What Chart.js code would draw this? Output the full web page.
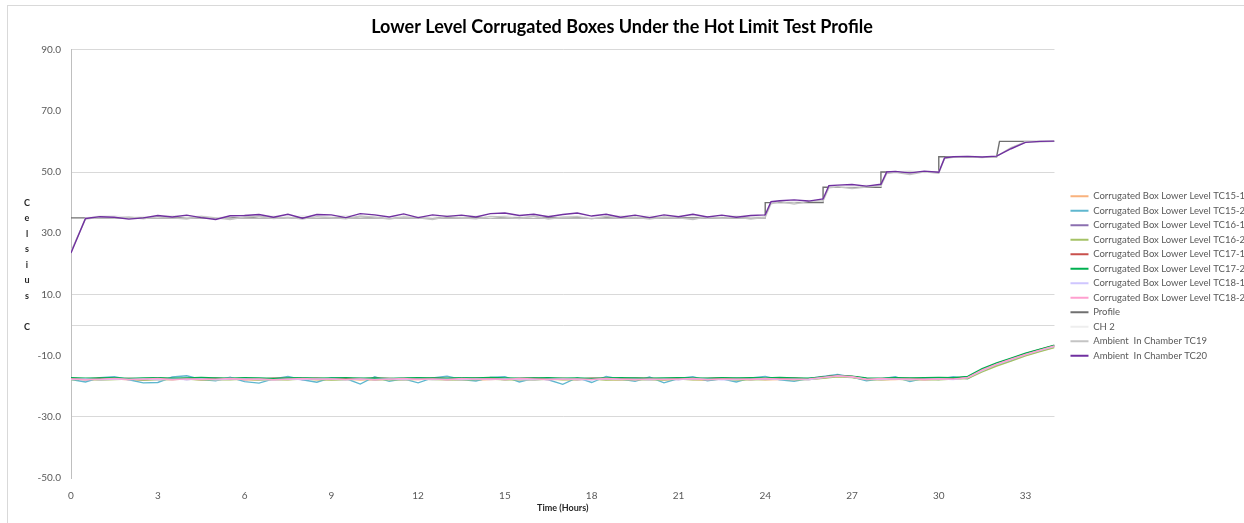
<!DOCTYPE html>
<html lang="en">
<head>
<meta charset="UTF-8">
<title>Lower Level Corrugated Boxes</title>
<script src="https://cdn.jsdelivr.net/npm/chart.js@4.4.0/dist/chart.umd.min.js"></script>
<style>
  body { margin: 0; background: #fff; }
  #wrap { position: relative; width: 1244px; height: 523px; }
  #frame { position: absolute; left: 7px; top: 5px; right: 0; bottom: 0; border-left: 1px solid #d9d9d9; border-top: 1px solid #d9d9d9; pointer-events: none; }
</style>
</head>
<body>
<div id="wrap">
  <canvas id="chart"></canvas>
  <div id="frame"></div>
</div>
<script>
// time axis (hours) for the box thermocouples
const hours = [0,0.5,1,1.5,2,2.5,3,3.5,4,4.5,
  5,5.5,6,6.5,7,7.5,8,8.5,9,9.5,
  10,10.5,11,11.5,12,12.5,13,13.5,14,14.5,
  15,15.5,16,16.5,17,17.5,18,18.5,19,19.5,
  20,20.5,21,21.5,22,22.5,23,23.5,24,24.5,
  25,25.5,26,26.5,27,27.5,28,28.5,29,29.5,
  30,30.5,31,31.5,32,32.5,33,33.5,34];

const tc15_1 = [-17.7,-17.9,-17.8,-17.6,-17.9,-18.0,-17.7,-17.8,-17.6,-17.9,
  -17.8,-17.7,-17.9,-18.0,-17.7,-17.8,-17.6,-17.9,-17.8,-17.7,
  -18.0,-17.8,-17.7,-17.9,-17.8,-17.6,-17.7,-17.9,-18.0,-17.8,
  -17.7,-17.9,-17.8,-17.6,-17.8,-17.9,-17.7,-17.8,-18.0,-17.7,
  -17.8,-17.9,-17.7,-17.8,-18.1,-17.7,-17.8,-17.6,-17.9,-17.8,
  -17.7,-17.8,-17.3,-16.8,-17.1,-17.7,-17.9,-17.8,-17.6,-17.8,
  -17.7,-17.6,-17.3,-15.0,-13.1,-11.5,-9.9,-8.5,-7.2];
const tc15_2 = [-17.8,-18.6,-17.2,-16.9,-17.9,-18.9,-18.8,-17.0,-16.6,-17.8,
  -18.2,-17.1,-18.5,-19.0,-17.6,-16.8,-17.9,-18.7,-17.2,-17.5,
  -19.3,-16.9,-18.4,-17.6,-18.9,-17.3,-16.7,-17.8,-18.3,-17.1,
  -16.9,-18.6,-17.4,-17.9,-19.4,-17.2,-18.8,-16.8,-17.7,-18.4,
  -17.0,-18.9,-17.5,-16.9,-18.2,-17.6,-18.6,-17.3,-16.8,-17.9,
  -18.4,-17.5,-16.8,-16.2,-17.0,-18.2,-17.6,-16.9,-18.5,-17.4,
  -17.8,-16.9,-17.6,-14.8,-12.9,-11.6,-9.6,-8.4,-6.9];
const tc16_1 = [-17.6,-17.8,-17.5,-17.7,-17.6,-17.9,-17.6,-17.5,-17.8,-17.6,
  -17.7,-17.5,-17.8,-17.6,-17.7,-17.5,-17.8,-17.6,-17.7,-17.6,
  -17.5,-17.8,-17.6,-17.7,-17.5,-17.6,-17.8,-17.7,-17.5,-17.6,
  -17.8,-17.6,-17.7,-17.5,-17.6,-17.8,-17.6,-17.7,-17.5,-17.7,
  -17.6,-17.7,-17.8,-17.5,-17.7,-17.6,-17.5,-17.8,-17.6,-17.7,
  -17.5,-17.7,-17.1,-16.6,-16.9,-17.6,-17.7,-17.5,-17.8,-17.6,
  -17.5,-17.4,-17.0,-14.6,-12.7,-11.1,-9.5,-8.2,-6.9];
const tc16_2 = [-17.9,-17.7,-18.0,-17.8,-17.7,-18.0,-17.9,-17.8,-17.7,-18.0,
  -17.8,-17.9,-17.7,-18.0,-17.8,-17.9,-17.7,-17.8,-18.0,-17.9,
  -17.7,-17.9,-17.8,-18.0,-17.7,-17.8,-17.9,-18.0,-17.8,-17.7,
  -17.9,-17.8,-18.0,-17.7,-17.9,-17.8,-17.7,-18.0,-17.8,-17.9,
  -17.8,-18.0,-17.7,-17.9,-17.8,-17.7,-18.0,-17.9,-17.8,-17.7,
  -17.9,-17.8,-17.4,-16.9,-17.2,-17.8,-17.9,-17.7,-18.0,-17.8,
  -17.9,-17.7,-17.5,-15.3,-13.4,-11.8,-10.1,-8.7,-7.4];
const tc17_1 = [-17.5,-17.6,-17.4,-17.7,-17.5,-17.6,-17.4,-17.6,-17.5,-17.7,
  -17.4,-17.6,-17.5,-17.7,-17.4,-17.5,-17.6,-17.4,-17.7,-17.5,
  -17.6,-17.4,-17.5,-17.7,-17.6,-17.4,-17.5,-17.6,-17.4,-17.5,
  -17.7,-17.5,-17.4,-17.6,-17.5,-17.7,-17.4,-17.5,-17.6,-17.4,
  -17.5,-17.6,-17.4,-17.7,-17.5,-17.4,-17.6,-17.5,-17.7,-17.5,
  -17.4,-17.6,-17.0,-16.5,-16.8,-17.5,-17.6,-17.4,-17.5,-17.6,
  -17.4,-17.5,-17.1,-14.5,-12.6,-11.0,-9.4,-8.0,-6.7];
const tc17_2 = [-17.2,-17.4,-17.3,-17.2,-17.5,-17.3,-17.2,-17.4,-17.3,-17.1,
  -17.3,-17.4,-17.2,-17.3,-17.5,-17.3,-17.2,-17.4,-17.3,-17.2,
  -17.4,-17.3,-17.5,-17.3,-17.2,-17.3,-17.4,-17.2,-17.3,-17.1,
  -17.3,-17.4,-17.3,-17.2,-17.4,-17.3,-17.5,-17.3,-17.2,-17.3,
  -17.4,-17.3,-17.2,-17.3,-17.4,-17.2,-17.3,-17.2,-17.3,-17.1,
  -17.3,-17.4,-17.0,-16.5,-16.7,-17.3,-17.4,-17.2,-17.3,-17.2,
  -17.1,-17.2,-16.8,-14.3,-12.4,-10.8,-9.2,-7.9,-6.6];
const tc18_1 = [-17.8,-17.6,-17.9,-17.7,-17.8,-17.6,-17.9,-17.7,-17.8,-17.6,
  -17.9,-17.7,-17.6,-17.8,-17.9,-17.7,-17.8,-17.6,-17.7,-17.9,
  -17.7,-17.8,-17.6,-17.9,-17.7,-17.8,-17.7,-17.9,-17.6,-17.8,
  -17.6,-17.8,-17.9,-17.7,-17.6,-17.8,-17.9,-17.6,-17.8,-17.7,
  -17.9,-17.7,-17.8,-17.6,-17.7,-17.9,-17.8,-17.7,-17.6,-17.8,
  -17.7,-17.9,-17.2,-16.7,-17.0,-17.7,-17.8,-17.6,-17.9,-17.7,
  -17.6,-17.8,-17.2,-14.9,-12.9,-11.3,-9.7,-8.3,-7.0];
const tc18_2 = [-17.6,-17.9,-17.7,-17.5,-17.8,-17.7,-17.5,-17.9,-17.6,-17.8,
  -17.7,-17.5,-17.8,-17.6,-17.9,-17.7,-17.5,-17.7,-17.6,-17.8,
  -17.6,-17.9,-17.7,-17.5,-17.8,-17.6,-17.9,-17.5,-17.7,-17.6,
  -17.8,-17.5,-17.6,-17.9,-17.7,-17.6,-17.8,-17.5,-17.7,-17.9,
  -17.6,-17.8,-17.7,-17.5,-17.9,-17.6,-17.7,-17.8,-17.5,-17.7,
  -17.8,-17.6,-17.1,-16.6,-16.9,-17.8,-17.5,-17.7,-17.6,-17.9,
  -17.6,-17.7,-17.2,-14.7,-12.8,-11.2,-9.6,-8.2,-6.8];

// profile set points (step changes)
const profileHours = [0,24,24,26,26,28,28,30,30,32,32.1,34];
const profileTemps = [35,35,40,40,45,45,50,50,55,55,60,60];

// chamber air readings, extra samples right after each step
const upperHours = [0,0.5,1,1.5,2,2.5,3,3.5,4,4.5,
  5,5.5,6,6.5,7,7.5,8,8.5,9,9.5,
  10,10.5,11,11.5,12,12.5,13,13.5,14,14.5,
  15,15.5,16,16.5,17,17.5,18,18.5,19,19.5,
  20,20.5,21,21.5,22,22.5,23,23.5,24,24.2,24.5,
  25,25.5,26,26.2,26.5,27,27.5,28,28.2,28.5,29,29.5,
  30,30.2,30.5,31,31.5,32,32.5,33,33.5,34];
const ch2 = [23.8,35.0,35.6,35.7,35.1,35.5,35.2,35.8,35.3,35.6,
  35.1,35.4,35.9,35.3,35.6,35.0,35.7,35.2,35.5,35.8,
  35.3,35.6,35.1,35.7,35.4,35.2,35.8,35.3,35.6,35.1,
  35.7,35.4,35.2,35.8,35.3,35.6,35.1,35.5,35.7,35.3,
  35.6,35.2,35.5,35.8,35.1,35.4,35.7,35.3,35.5,40.0,40.4,
  40.2,40.7,40.5,45.1,45.4,45.2,45.7,45.3,49.8,50.0,50.4,49.8,
  50.1,54.7,54.9,55.2,55.0,55.1,57.9,59.9,60.1,60.0];
const tc19 = [24.0,34.6,35.2,35.0,35.3,34.7,35.4,35.0,34.6,35.5,
  35.0,34.5,35.3,35.6,34.8,35.2,34.6,35.4,35.1,34.7,
  35.6,35.2,34.6,35.3,35.0,34.5,35.4,35.0,34.7,35.5,
  35.3,34.8,35.6,34.6,35.2,35.4,34.7,35.5,34.9,35.2,
  34.6,35.3,35.0,34.5,35.4,34.9,35.3,34.6,35.2,39.6,40.3,
  39.5,40.4,40.6,44.8,45.2,44.6,45.1,45.5,49.5,49.9,49.2,50.1,
  49.6,54.4,54.8,55.0,54.7,55.1,58.0,59.8,59.9,60.0];
const tc20 = [23.5,34.8,35.4,35.2,34.6,35.0,35.8,35.3,35.9,35.1,
  34.5,35.7,35.8,36.1,35.2,36.2,34.9,36.1,36.0,35.1,
  36.4,36.0,35.3,36.3,35.1,36.0,35.5,35.9,35.3,36.4,
  36.6,35.8,36.2,35.4,36.1,36.6,35.6,36.2,35.2,35.9,
  35.1,36.0,35.4,36.2,35.3,35.9,35.2,35.8,36.0,40.3,40.6,
  40.9,40.5,41.2,45.5,45.7,45.9,45.4,46.0,50.0,50.2,49.7,50.3,
  49.9,54.6,55.0,55.1,54.9,55.2,57.6,59.7,60.0,60.1];

const seriesNames = ['Corrugated Box Lower Level TC15-1','Corrugated Box Lower Level TC15-2',
  'Corrugated Box Lower Level TC16-1','Corrugated Box Lower Level TC16-2',
  'Corrugated Box Lower Level TC17-1','Corrugated Box Lower Level TC17-2',
  'Corrugated Box Lower Level TC18-1','Corrugated Box Lower Level TC18-2',
  'Profile','CH 2','Ambient  In Chamber TC19','Ambient  In Chamber TC20'];
const seriesColors = ['#f9b27d','#5fb7cf','#8b6fb0','#a5c266','#c9504c','#00b050',
  '#cfc6ff','#ff9fcf','#707070','#eeeeee','#c4c4c4','#7030a0'];

const xTickValues = [0,3,6,9,12,15,18,21,24,27,30,33];
const yTickValues = [-50,-30,-10,10,30,50,70,90];
const yGridValues = [90,50,10,0,-30];

function pts(xs, ys) {
  return xs.map((x, i) => ({x: x, y: ys[i]}));
}

const seriesData = [
  pts(hours, tc15_1), pts(hours, tc15_2), pts(hours, tc16_1), pts(hours, tc16_2),
  pts(hours, tc17_1), pts(hours, tc17_2), pts(hours, tc18_1), pts(hours, tc18_2),
  pts(profileHours, profileTemps), pts(upperHours, ch2), pts(upperHours, tc19), pts(upperHours, tc20)
];

const datasets = seriesNames.map((name, i) => ({
  label: name,
  data: seriesData[i],
  borderColor: seriesColors[i],
  backgroundColor: seriesColors[i],
  borderWidth: 1.4,
  pointRadius: 0,
  tension: 0,
  order: seriesNames.length - i
}));

// vertical stacked "Celsius C" axis title
const yLetters = ['C','e','l','s','i','u','s','','C'];
const letterTitle = {
  id: 'letterTitle',
  afterLayout(chart) {
    // legend lines start a little right of the plot edge
    chart.legend.left += 11;
    chart.legend.right += 11;
  },
  afterDraw(chart) {
    const ctx = chart.ctx;
    ctx.save();
    ctx.font = 'bold 9px Lato';
    ctx.fillStyle = '#262626';
    ctx.textAlign = 'center';
    ctx.textBaseline = 'middle';
    yLetters.forEach((ch, i) => {
      ctx.fillText(ch, 27, 203 + i * 15.5);
    });
    ctx.restore();
  }
};

new Chart(document.getElementById('chart'), {
  type: 'line',
  data: { datasets: datasets },
  plugins: [letterTitle],
  options: {
    responsive: true,
    maintainAspectRatio: false,
    animation: false,
    layout: { padding: { left: 0, right: 0, top: 0, bottom: 0 } },
    plugins: {
      title: {
        display: true,
        text: 'Lower Level Corrugated Boxes Under the Hot Limit Test Profile',
        color: '#000',
        font: { family: 'Lato', size: 18, weight: 'bold' },
        padding: { top: 16, bottom: 12 }
      },
      legend: {
        position: 'right',
        maxWidth: 191,
        title: { display: true, text: ' ', padding: { top: 28, bottom: 0 }, font: { size: 1 } },
        labels: {
          boxWidth: 18,
          boxHeight: 2,
          padding: 5,
          color: '#595959',
          font: { family: 'Lato', size: 9.5 },
          sort: (a, b) => a.datasetIndex - b.datasetIndex,
          generateLabels: (chart) => Chart.defaults.plugins.legend.labels.generateLabels(chart)
            .map(l => Object.assign(l, { lineWidth: 0 }))
        }
      },
      tooltip: { enabled: false }
    },
    scales: {
      x: {
        type: 'linear',
        min: 0,
        max: 34,
        grid: { display: false },
        border: { display: false },
        ticks: {
          stepSize: 3,
          autoSkip: false,
          padding: 4,
          color: '#595959',
          font: { family: 'Lato', size: 10 },
          callback: (v) => xTickValues.includes(v) ? String(v) : ''
        },
        title: {
          display: true,
          text: 'Time (Hours)',
          color: '#262626',
          font: { family: 'Lato', size: 9, weight: 'bold' },
          padding: { top: 0, bottom: 10 }
        },
        afterFit(scale) { scale.height = 45; }
      },
      y: {
        min: -50,
        max: 90,
        grid: {
          drawTicks: false,
          color: (ctx) => yGridValues.includes(ctx.tick.value) ? '#d9d9d9' : 'rgba(0,0,0,0)'
        },
        border: { display: true, color: '#bfbfbf' },
        ticks: {
          stepSize: 10,
          autoSkip: false,
          padding: 10,
          color: '#595959',
          font: { family: 'Lato', size: 10 },
          callback: (v) => yTickValues.includes(v) ? v.toFixed(1) : ''
        },
        afterFit(scale) { scale.width = 71; }
      }
    }
  }
});
</script>
</body>
</html>
